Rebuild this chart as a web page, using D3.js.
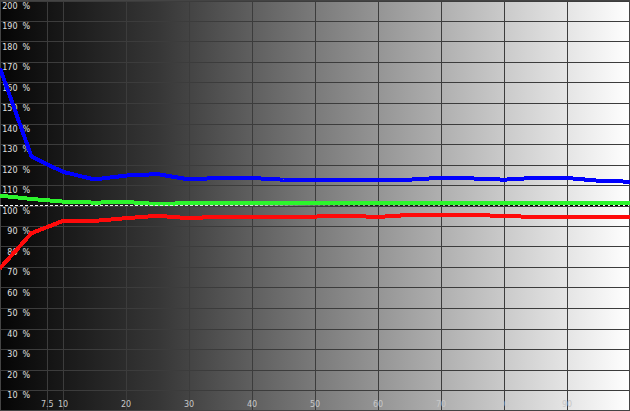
<!DOCTYPE html>
<html>
<head>
<meta charset="utf-8">
<script src="https://cdn.jsdelivr.net/npm/d3@7"></script>
<style>
  html, body { margin: 0; padding: 0; background: #000; }
  svg { display: block; }
</style>
</head>
<body>
<div id="chart"></div>
<script>
// stimulus levels (% IRE) and RGB balance readings (%)
const levels = [0, 5, 10, 15, 20, 25, 30, 35, 40, 45, 50, 55, 60, 65, 70, 75, 80, 85, 90, 95, 100];
const blue = [167, 123.8, 116.4, 112.7, 114.6, 115.3, 112.7, 113.5, 113.4, 112.6, 112.6, 112.6, 112.6, 112.6, 113.5, 113.2, 112.6, 113.5, 113.4, 112.1, 111.6];
const green = [104.8, 103.2, 101.9, 101.4, 101.7, 100.7, 101.2, 101.3, 101.3, 101.3, 101.3, 101.3, 101.3, 101.3, 101.3, 101.3, 101.3, 101.3, 101.3, 101.3, 101.3];
const red = [69.4, 86.5, 92.5, 92.5, 93.8, 95.0, 93.8, 94.6, 94.6, 94.6, 94.6, 95.0, 94.4, 95.4, 95.4, 95.4, 94.9, 94.4, 94.4, 94.4, 94.4];

const xTicks = [7.5, 10, 20, 30, 40, 50, 60, 70, 80, 90];
const xTickLabels = ["7.5", "10", "20", "30", "40", "50", "60", "70", "80", "90"];
const yTicks = [10, 20, 30, 40, 50, 60, 70, 80, 90, 100, 110, 120, 130, 140, 150, 160, 170, 180, 190, 200];

const width = 630, height = 411;

const x = d3.scaleLinear().domain([0, 100]).range([0, 630]);
const y = d3.scaleLinear().domain([0, 200]).range([410.5, 0.5]);

const svg = d3.select("#chart").append("svg")
  .attr("width", width)
  .attr("height", height);

const defs = svg.append("defs");

// background: black to white ramp
const bg = defs.append("linearGradient").attr("id", "bg")
  .attr("x1", "0%").attr("x2", "100%").attr("y1", "0%").attr("y2", "0%");
bg.append("stop").attr("offset", "0%").attr("stop-color", "#050505");
bg.append("stop").attr("offset", "25%").attr("stop-color", "#363636");
bg.append("stop").attr("offset", "50%").attr("stop-color", "#7a7a7a");
bg.append("stop").attr("offset", "100%").attr("stop-color", "#ffffff");

// reference line inverts against the ramp
const ref = defs.append("linearGradient").attr("id", "ref")
  .attr("gradientUnits", "userSpaceOnUse")
  .attr("x1", 0).attr("x2", width).attr("y1", 0).attr("y2", 0);
ref.append("stop").attr("offset", "0%").attr("stop-color", "#ffffff");
ref.append("stop").attr("offset", "40%").attr("stop-color", "#d8d8d8");
ref.append("stop").attr("offset", "55%").attr("stop-color", "#202020");
ref.append("stop").attr("offset", "100%").attr("stop-color", "#000000");

svg.append("rect")
  .attr("width", width).attr("height", height)
  .attr("fill", "url(#bg)");

// grid
const grid = svg.append("g").attr("stroke", "#3c3c3c").attr("stroke-width", 1)
  .attr("shape-rendering", "crispEdges");

grid.selectAll("line.h")
  .data(yTicks)
  .join("line")
  .attr("class", "h")
  .attr("x1", 0).attr("x2", width)
  .attr("y1", d => Math.round(y(d)) + 0.5)
  .attr("y2", d => Math.round(y(d)) + 0.5);

grid.selectAll("line.v")
  .data(xTicks)
  .join("line")
  .attr("class", "v")
  .attr("y1", 0).attr("y2", height)
  .attr("x1", d => Math.round(x(d)) + 0.5)
  .attr("x2", d => Math.round(x(d)) + 0.5);

svg.append("rect")
  .attr("x", 0.5).attr("y", 0.5)
  .attr("width", width - 1).attr("height", height - 1)
  .attr("fill", "none")
  .attr("stroke", "#444")
  .attr("shape-rendering", "crispEdges");

// y labels
const yLab = svg.append("g")
  .attr("font-family", "DejaVu Sans, sans-serif")
  .attr("font-size", 8)
  .attr("fill", "#e0e0e0");

yLab.selectAll("text.num")
  .data(yTicks)
  .join("text")
  .attr("class", "num")
  .attr("x", 17.5)
  .attr("y", d => y(d) + 8)
  .attr("text-anchor", "end")
  .text(d => d);

yLab.selectAll("text.pct")
  .data(yTicks)
  .join("text")
  .attr("class", "pct")
  .attr("x", 22.5)
  .attr("y", d => y(d) + 8)
  .text("%");

// x labels
svg.append("g")
  .attr("font-family", "DejaVu Sans, sans-serif")
  .attr("font-size", 8)
  .attr("fill", "#c8c8c8")
  .selectAll("text")
  .data(xTicks)
  .join("text")
  .attr("x", d => x(d))
  .attr("y", 406.5)
  .attr("text-anchor", "middle")
  .text((d, i) => xTickLabels[i]);

// series
const line = d3.line()
  .x(d => x(d[0]))
  .y(d => y(d[1]));

const series = [
  { name: "blue", values: blue, color: "#0000ff" },
  { name: "green", values: green, color: "#2cf52c" },
  { name: "red", values: red, color: "#ff0a0a" }
];

svg.append("g")
  .selectAll("path")
  .data(series)
  .join("path")
  .attr("fill", "none")
  .attr("stroke", d => d.color)
  .attr("stroke-width", 4)
  .attr("stroke-linejoin", "round")
  .attr("shape-rendering", "crispEdges")
  .attr("d", d => line(levels.map((l, i) => [l, d.values[i]])));

// 100 % reference
svg.append("line")
  .attr("x1", 0).attr("x2", width)
  .attr("y1", y(100)).attr("y2", y(100))
  .attr("stroke", "url(#ref)")
  .attr("stroke-width", 1)
  .attr("stroke-dasharray", "3,2")
  .attr("shape-rendering", "crispEdges");
</script>
</body>
</html>
